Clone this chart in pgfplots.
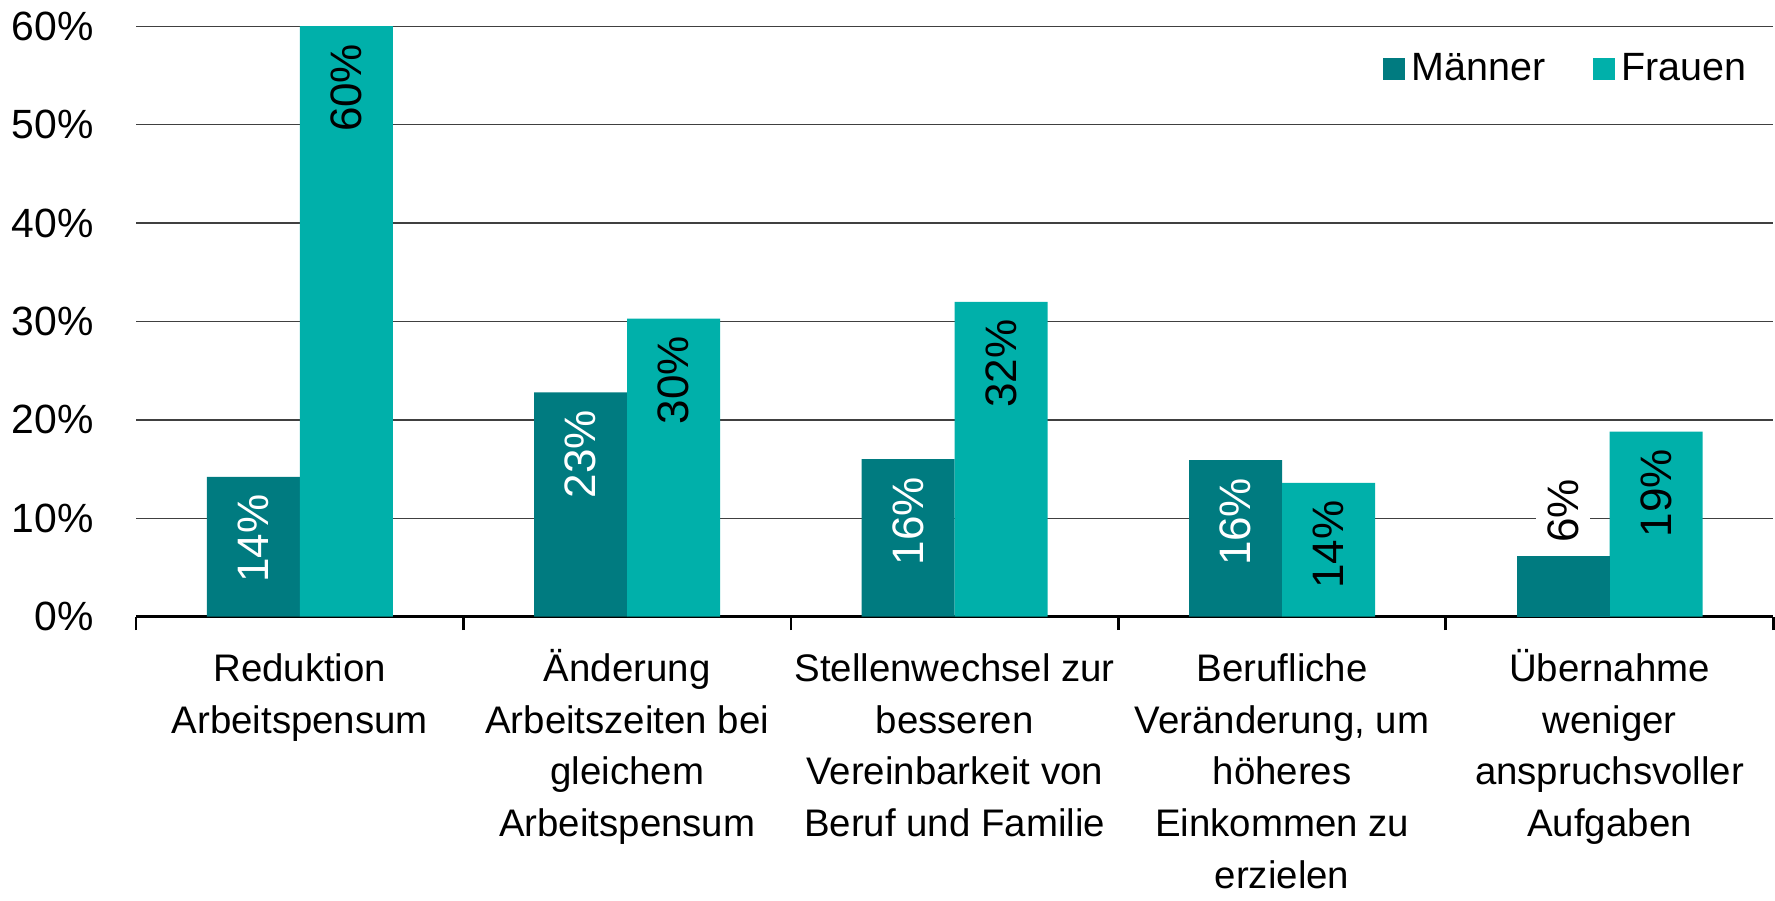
\documentclass[border=0pt]{standalone}
\usepackage{fontspec}
\setmainfont{Liberation Sans}
\usepackage{pgfplots}
\pgfplotsset{compat=1.18}

\definecolor{maenner}{HTML}{007B80}
\definecolor{frauen}{HTML}{00B0AA}

\begin{document}
\begin{tikzpicture}
\begin{axis}[
    scale only axis,
    width=163.3mm, height=58.9mm,
    font=\fontsize{10.9}{14.7}\selectfont,
    /pgf/number format/assume math mode=true,
    xmin=-0.5, xmax=4.5,
    ymin=0, ymax=60,
    axis x line*=bottom,
    axis y line*=left,
    x axis line style={line width=1pt, black},
    y axis line style={draw=none},
    ytick={0,10,...,60},
    yticklabel={\pgfmathprintnumber{\tick}\%},
    ymajorgrids,
    grid style={black!75, line width=0.4pt},
    xtick={0,1,2,3,4},
    major x tick style={draw=none},
    minor xtick={-0.5,0.5,1.5,2.5,3.5,4.5},
    minor x tick style={black, line width=0.8pt},
    minor tick length=1.35mm,
    tick align=outside,
    xticklabel style={align=center, anchor=north, yshift=-0.5mm,
        font=\fontsize{10.9}{14.7}\selectfont},
    yticklabel style={xshift=-1.5mm, font=\fontsize{11.6}{13}\selectfont},
    xticklabels={
        {\vphantom{Ü}Reduktion\\Arbeitspensum},
        {\vphantom{Ü}Änderung\\Arbeitszeiten bei\\gleichem\\Arbeitspensum},
        {\vphantom{Ü}Stellenwechsel zur\\besseren\\Vereinbarkeit von\\Beruf und Familie},
        {\vphantom{Ü}Berufliche\\Veränderung, um\\höheres\\Einkommen zu\\erzielen},
        {\vphantom{Ü}Übernahme\\weniger\\anspruchsvoller\\Aufgaben}},
    ytick style={draw=none},
    ybar,
    bar width=0.284,
    legend style={at={(0.995,0.927)}, anchor=east, draw=none, fill=none,
        legend columns=2, font=\fontsize{11.2}{13}\selectfont,
        /tikz/every even column/.append style={column sep=4mm}},
    legend image code/.code={\fill[#1] (0mm,-1.1mm) rectangle (2.2mm,1.1mm);},
    nodes near coords={\pgfmathprintnumber[fixed,precision=0]{\pgfplotspointmeta}\%},
    every node near coord/.append style={rotate=90, font=\fontsize{12.5}{14}\selectfont},
]
% Maenner, labels inside the bar
\addplot[fill=maenner, draw=none, bar shift=-0.142,
    every node near coord/.append style={anchor=east, text=white, inner xsep=4.8pt}]
    coordinates {(0,14.2) (1,22.8) (2,16.0) (3,15.9)};
\addlegendentry{Männer}
% Frauen
\addplot[fill=frauen, draw=none, bar shift=0.142,
    every node near coord/.append style={anchor=east, text=black, inner xsep=4.8pt}]
    coordinates {(0,60.0) (1,30.3) (2,32.0) (3,13.6) (4,18.8)};
\addlegendentry{Frauen}
% Maenner, small bar with label above
\addplot[fill=maenner, draw=none, bar shift=-0.142, forget plot,
    every node near coord/.append style={anchor=west, text=black, fill=white, inner xsep=3.5pt}]
    coordinates {(4,6.2)};
\end{axis}
\end{tikzpicture}
\end{document}
